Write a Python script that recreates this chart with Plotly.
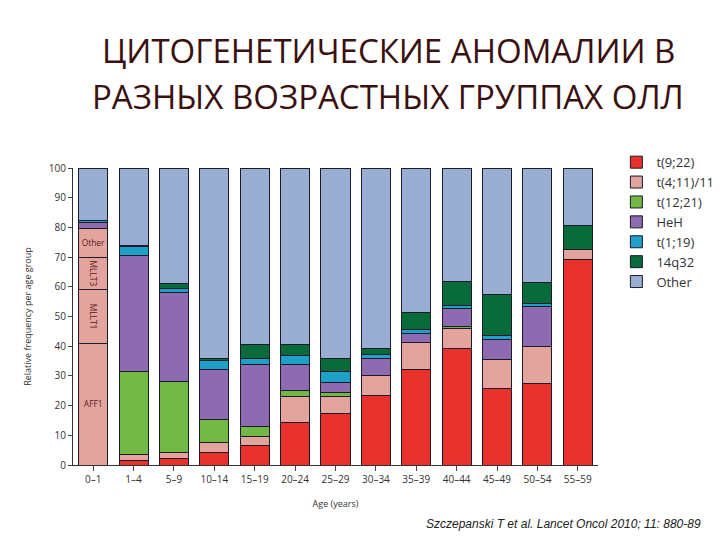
import plotly.graph_objects as go

ages = ["0–1","1–4","5–9","10–14","15–19","20–24","25–29","30–34","35–39","40–44","45–49","50–54","55–59"]
t922 = [0,1.5,2.3,4.3,6.5,14.2,17.5,23.3,32.1,39.1,25.7,27.4,69.3]
t411 = [0,2,2,3.2,3,8.8,5.4,6.9,9,6.7,9.7,12.4,3.4]
t1221 = [0,28,23.7,7.8,3.3,2,1.5,0,0.3,1,0,0,0]
heh = [2,39,30,16.7,21.2,8.8,3.5,5.6,2.9,5.8,6.8,13.5,0]
t119 = [0.7,3,1.5,3.3,1.8,3,3.7,1.4,1.3,1.2,1.3,1.1,0]
q32 = [0,0.5,1.5,0.7,4.8,3.7,4.4,2,5.8,7.9,13.9,7,7.9]
other = [17.8,26,39,64,59.4,59.5,64,60.8,48.6,38.3,42.6,38.6,19.4]
# 0-1 group t(4;11) partners
partners = ["AFF1","MLLT1","MLLT3","Other"]
partner_vals = [41,18,11,9.5]

fig = go.Figure()
line = dict(color="#1a1a2a", width=1)
def add(name, vals, color, show=True, text=None):
    fig.add_bar(x=ages, y=vals, name=name, marker=dict(color=color, line=line),
                showlegend=show, text=text, textposition="inside", insidetextanchor="middle",
                textfont=dict(size=9, color="#5a1a1a"), width=0.72, hoverinfo="skip")

add("t(9;22)", t922, "#e8312a")
for i, (p, v) in enumerate(zip(partners, partner_vals)):
    vals = [v] + [0]*(len(ages)-1)
    add(p, vals, "#e3a49e", show=False, text=[p] + [""]*(len(ages)-1))
add("t(4;11)/11q23", t411, "#e3a49e")
add("t(12;21)", t1221, "#72b844")
add("HeH", heh, "#8e6bb0")
add("t(1;19)", t119, "#1ea0c8")
add("14q32", q32, "#0a6b3a")
add("Other", other, "#9aaed4")

fig.update_layout(
    width=720, height=540, barmode="stack", plot_bgcolor="white", paper_bgcolor="white",
    margin=dict(l=65, r=130, t=160, b=83, autoexpand=False), bargap=0.28,
    font=dict(family="Open Sans", color="#333"),
    legend=dict(x=1.035, y=1.07, yanchor="top", traceorder="normal", font=dict(size=13),
                itemwidth=30, tracegroupgap=0),
    showlegend=True, uniformtext=dict(minsize=8, mode="show"),
)
for txt, yy in [("ЦИТОГЕНЕТИЧЕСКИЕ АНОМАЛИИ В", 1.397), ("РАЗНЫХ ВОЗРАСТНЫХ ГРУППАХ ОЛЛ", 1.242)]:
    fig.add_annotation(text=txt, xref="paper", yref="paper", x=0.6, y=yy, xanchor="center",
                       yanchor="middle", showarrow=False,
                       font=dict(family="Open Sans", size=33, color="#3a1010"))
fig.update_yaxes(range=[0,100], dtick=10, showgrid=False, ticks="outside", ticklen=4,
                 showline=True, linecolor="#333", tickfont=dict(size=10), automargin=False,
                 title=dict(text="Relative frequency per age group", font=dict(size=9)))
fig.update_xaxes(showline=True, linecolor="#333", ticks="outside", tickfont=dict(size=10),
                 automargin=False, title=dict(text="Age (years)", font=dict(size=9)))
fig.add_annotation(text="<i>Szczepanski T et al. Lancet Oncol 2010; 11: 880-89</i>",
                   xref="paper", yref="paper", x=1.2, y=-0.199, xanchor="right", yanchor="middle",
                   showarrow=False, font=dict(family="Liberation Sans", size=12, color="#222"))
fig.write_html("out.html")
